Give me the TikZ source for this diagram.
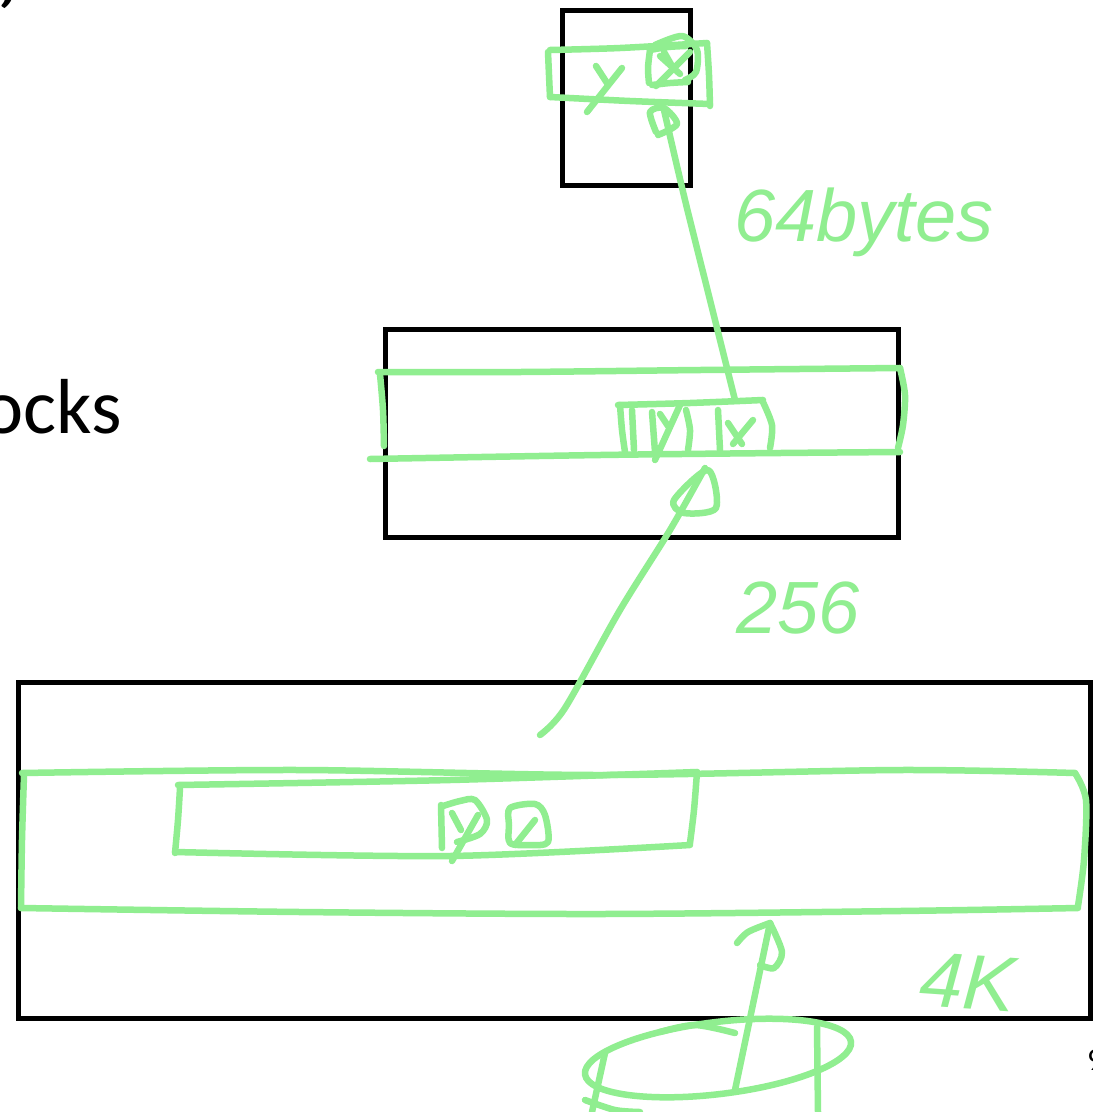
\documentclass[tikz,border=0pt]{standalone}
\usepackage{fontspec}
\setmainfont{Carlito}
\newfontfamily\hand{Liberation Sans}
\begin{document}
\begin{tikzpicture}[x=1pt,y=-1pt]
\definecolor{ink}{RGB}{144,238,144}
\tikzset{
  pen/.style={draw=ink, line width=6.5pt, line cap=round, line join=round},
  frame/.style={draw=black, line width=5pt},
  note/.style={text=ink, font=\hand\itshape\fontsize{#1}{#1}\selectfont, inner sep=0pt},
  slide/.style={text=black, inner sep=0pt}
}
\useasboundingbox (0,0) rectangle (1093,1112);
\fill[white] (0,0) rectangle (1093,1112);

% slide text
\node[slide, anchor=base east, font=\bfseries\itshape\fontsize{72}{72}\selectfont] (qt) at (21,40) {”};
\node[slide, anchor=base east, font=\fontsize{78}{78}\selectfont] (lbl) at (122,433) {ocks};
\node[slide, anchor=base west, font=\fontsize{32}{32}\selectfont] (pg) at (1087,1070) {9};

% the three levels of the hierarchy
\draw[frame] (562,10) rectangle (690,185);
\draw[frame] (385,329) rectangle (898,537);
\draw[frame] (18,682) rectangle (1090,1018);

% ---- top level: one 64-byte line
\draw[pen] plot[smooth] coordinates {(550,50) (620,48) (707,43)};
\draw[pen] plot[smooth] coordinates {(707,43) (709,75) (710,106)};
\draw[pen] plot[smooth] coordinates {(548,52) (549,75) (550,97)};
\draw[pen] plot[smooth] coordinates {(550,97) (630,101) (710,104)};
\draw[pen] (596,66) -- (607,83);
\draw[pen] (622,68) -- (587,112);
% boxed x
\draw[pen] plot[smooth] coordinates {(650,50) (648,68) (649,83)};
\draw[pen] plot[smooth] coordinates {(650,50) (668,47) (686,46)};
\draw[pen] plot[smooth] coordinates {(652,85) (670,83) (688,82)};
\draw[pen] plot[smooth] coordinates {(655,45) (682,36) (697,50) (696,72) (685,80)};
\draw[pen] (660,56) -- (680,74);
\draw[pen] (690,52) -- (656,86);
\draw[pen] (664,52) -- (672,66);
\coordinate (topin) at (664,110);

% ---- middle level: a 256-byte block
\draw[pen] plot[smooth] coordinates {(378,372) (520,372) (700,370) (900,368)};
\draw[pen] plot[smooth] coordinates {(900,368) (905,395) (903,425) (898,448)};
\draw[pen] plot[smooth] coordinates {(380,374) (383,410) (384,446)};
\draw[pen] plot[smooth] coordinates {(370,459) (600,455) (780,453) (900,452)};
% cells within the block
\draw[pen] plot[smooth] coordinates {(618,405) (690,403) (763,400)};
\draw[pen] plot[smooth] coordinates {(620,405) (622,430) (625,452)};
\draw[pen] plot[smooth] coordinates {(762,400) (772,425) (770,448)};
\draw[pen] (632,410) -- (634,450);
\draw[pen] (652,412) -- (655,452);
\draw[pen] plot[smooth] coordinates {(686,410) (690,430) (688,450)};
\draw[pen] (718,410) -- (720,450);
\draw[pen] (660,414) -- (668,426);
\draw[pen] (680,405) -- (655,460);
\draw[pen] (728,423) -- (742,444);
\draw[pen] (753,420) -- (733,444);
\coordinate (midout) at (735,400);
\coordinate (midin) at (705,468);

% ---- bottom level: a 4K page
\draw[pen] plot[smooth] coordinates {(22,773) (300,770) (600,775) (900,770) (1075,773)};
\draw[pen] plot[smooth] coordinates {(1075,773) (1086,800) (1084,860) (1078,906)};
\draw[pen] plot[smooth] coordinates {(24,775) (22,840) (21,908)};
\draw[pen] plot[smooth] coordinates {(21,908) (300,912) (600,914) (900,911) (1078,908)};
% inner run and the two lines in it
\draw[pen] plot[smooth] coordinates {(178,785) (450,780) (697,772)};
\draw[pen] plot[smooth] coordinates {(697,772) (694,810) (690,843)};
\draw[pen] plot[smooth] coordinates {(180,788) (178,820) (175,853)};
\draw[pen] plot[smooth] coordinates {(175,852) (450,856) (690,845)};
\draw[pen] (441,805) -- (442,848);
\draw[pen] plot[smooth] coordinates {(443,806) (460,801) (475,800) (487,820) (480,834) (457,842)};
\draw[pen] (452,813) -- (461,830);
\draw[pen] (478,815) -- (452,861);
\draw[pen] plot[smooth cycle] coordinates {(510,808) (535,804) (545,815) (548,842) (530,845) (510,843) (509,825)};
\draw[pen] (535,820) -- (515,845);
\coordinate (botout) at (540,735);
\coordinate (botin) at (770,923);

% ---- disk
\coordinate (disk) at (735,1090);
\coordinate (dc) at (718,1058);
\draw[pen, rotate around={7:(dc)}] (dc) ellipse [x radius=134, y radius=36];
\draw[pen] plot[smooth] coordinates {(660,1032) (695,1025) (735,1033)};
\draw[pen] (605,1053) -- (592,1112);
\draw[pen] (817,1027) -- (818,1112);
\draw[pen] plot[smooth] coordinates {(585,1100) (615,1110) (640,1112)};

% ---- transfers between the levels
\draw[pen] (disk) -- (botin);
\draw[pen] plot[smooth] coordinates {(737,943) (748,932) (770,923)};
\draw[pen] plot[smooth] coordinates {(770,923) (782,952) (774,968) (760,965)};
\draw[pen] plot[smooth] coordinates {(botout) (565,708) (620,610) (670,530) (midin)};
\draw[pen] plot[smooth cycle] coordinates {(674,500) (708,470) (716,508) (684,513)};
\draw[pen] plot[smooth] coordinates {(midout) (710,300) (685,200) (topin)};
\draw[pen] plot[smooth] coordinates {(656,132) (650,112) (664,108) (677,124) (658,135)};

% transfer sizes
\node[note=74] (n64) at (864,222) {64bytes};
\node[note=74] (n256) at (798,608) {256};
\node[note=78, rotate=-4] (n4k) at (968,982) {4K};
\end{tikzpicture}
\end{document}
